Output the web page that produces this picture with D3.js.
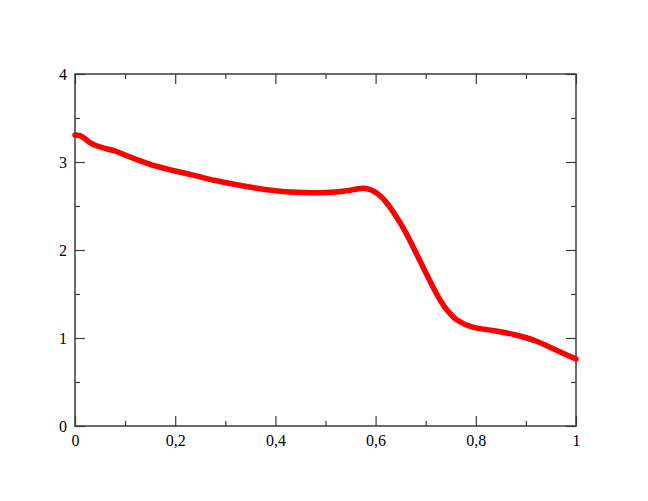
<!DOCTYPE html>
<html>
<head>
    <meta charset="utf-8">
    <script src="https://d3js.org/d3.v7.min.js"></script>
    <style>
        body { margin: 0; background: #fff; }
        svg text { font-family: "Liberation Serif", "Times New Roman", Times, serif !important; }
    </style>
</head>
<body>
    <div id="chart"></div>
    <script>
        // curve values
        const xVals = [0, 0.01, 0.02, 0.03, 0.04, 0.05, 0.06, 0.08, 0.10, 0.12, 0.14, 0.16, 0.18, 0.20,
            0.24, 0.28, 0.32, 0.36, 0.40, 0.44, 0.48, 0.52, 0.55, 0.57, 0.58, 0.59, 0.60, 0.61, 0.62,
            0.63, 0.64, 0.65, 0.66, 0.67, 0.68, 0.69, 0.70, 0.71, 0.72, 0.73, 0.74, 0.75, 0.76, 0.77,
            0.78, 0.80, 0.84, 0.88, 0.92, 0.96, 1.00];
        const yVals = [3.307, 3.30, 3.265, 3.22, 3.19, 3.172, 3.155, 3.125, 3.08, 3.034, 2.994, 2.955, 2.926, 2.898,
            2.845, 2.79, 2.745, 2.705, 2.673, 2.655, 2.65, 2.66, 2.68, 2.70, 2.70, 2.685, 2.655, 2.61, 2.55,
            2.475, 2.39, 2.30, 2.20, 2.09, 1.975, 1.86, 1.745, 1.63, 1.52, 1.42, 1.335, 1.27, 1.215, 1.18,
            1.15, 1.115, 1.08, 1.034, 0.966, 0.864, 0.761];
        const xTicks = [0, 0.2, 0.4, 0.6, 0.8, 1];
        const xMinor = [0.1, 0.3, 0.5, 0.7, 0.9];
        const yTicks = [0, 1, 2, 3, 4];
        const yMinor = [0.5, 1.5, 2.5, 3.5];

        const data = xVals.map((x, i) => ({ x: x, y: yVals[i] }));

        const W = 648, H = 501;
        const margin = { top: 74, right: 72, bottom: 75, left: 75 },
            width = W - margin.left - margin.right,
            height = H - margin.top - margin.bottom;

        const svg = d3.select("#chart")
            .append("svg")
            .attr("width", W)
            .attr("height", H)
            .append("g")
            .attr("transform", `translate(${margin.left}, ${margin.top})`);

        const x = d3.scaleLinear().domain([0, 1]).range([0, width]);
        const y = d3.scaleLinear().domain([0, 4]).range([height, 0]);

        const fmt = d => String(d).replace(".", ",");
        const axisColor = "#3a3a3a";

        // ticks on all four sides, pointing inward
        function styleAxis(g) {
            g.attr("font-family", null);
            g.select(".domain").remove();
            g.selectAll(".tick line").attr("stroke", axisColor).attr("stroke-width", 1.2);
            g.selectAll(".tick text")
                .attr("fill", "#000")
                .style("font-size", "16px");
        }

        svg.append("g")
            .attr("transform", `translate(0, ${height})`)
            .call(d3.axisBottom(x).tickValues(xTicks).tickSize(-10).tickPadding(6).tickFormat(fmt))
            .call(styleAxis)
            .selectAll("text").attr("dy", "0.9em");
        svg.append("g")
            .attr("transform", `translate(0, ${height})`)
            .call(d3.axisBottom(x).tickValues(xMinor).tickSize(-5).tickFormat(""))
            .call(styleAxis);
        svg.append("g")
            .call(d3.axisTop(x).tickValues(xTicks).tickSize(-10).tickFormat(""))
            .call(styleAxis);
        svg.append("g")
            .call(d3.axisTop(x).tickValues(xMinor).tickSize(-5).tickFormat(""))
            .call(styleAxis);

        svg.append("g")
            .call(d3.axisLeft(y).tickValues(yTicks).tickSize(-10).tickPadding(8).tickFormat(d3.format("d")))
            .call(styleAxis);
        svg.append("g")
            .call(d3.axisLeft(y).tickValues(yMinor).tickSize(-5).tickFormat(""))
            .call(styleAxis);
        svg.append("g")
            .attr("transform", `translate(${width}, 0)`)
            .call(d3.axisRight(y).tickValues(yTicks).tickSize(-10).tickFormat(""))
            .call(styleAxis);
        svg.append("g")
            .attr("transform", `translate(${width}, 0)`)
            .call(d3.axisRight(y).tickValues(yMinor).tickSize(-5).tickFormat(""))
            .call(styleAxis);

        // frame
        svg.append("rect")
            .attr("x", 0).attr("y", 0)
            .attr("width", width).attr("height", height)
            .attr("fill", "none")
            .attr("stroke", axisColor)
            .attr("stroke-width", 1.5);

        // curve
        const line = d3.line()
            .x(d => x(d.x))
            .y(d => y(d.y))
            .curve(d3.curveCatmullRom.alpha(0.5));

        svg.append("path")
            .datum(data)
            .attr("fill", "none")
            .attr("stroke", "#ff0000")
            .attr("stroke-width", 5.5)
            .attr("stroke-linecap", "round")
            .attr("d", line);

        svg.append("path")
            .datum(data)
            .attr("fill", "none")
            .attr("stroke", "#d01010")
            .attr("stroke-width", 1)
            .attr("stroke-dasharray", "1 2")
            .attr("opacity", 0.5)
            .attr("d", line);
    </script>
</body>
</html>
